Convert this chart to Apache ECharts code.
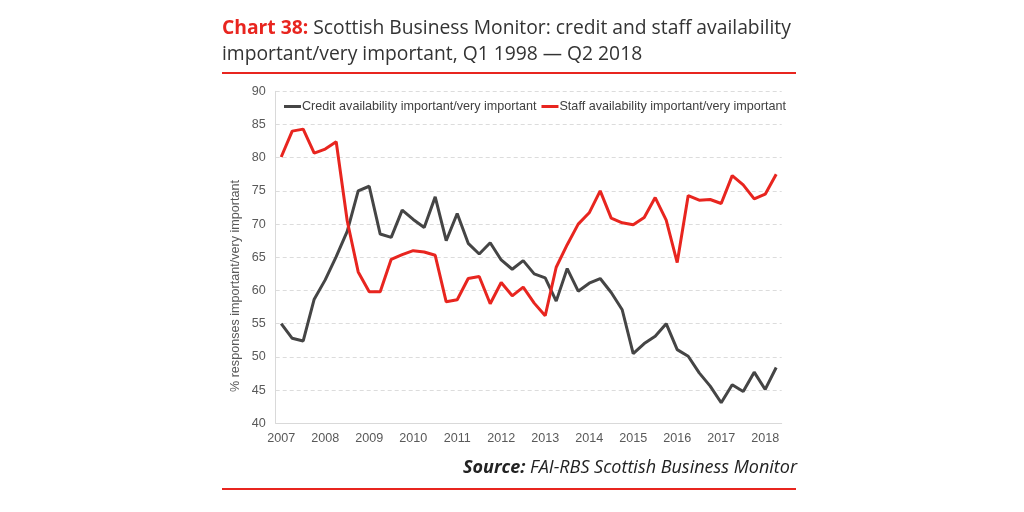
<!DOCTYPE html>
<html><head><meta charset="utf-8">
<script src="https://cdn.jsdelivr.net/npm/echarts@6/dist/echarts.min.js"></script>
<style>html,body{margin:0;padding:0;background:#fff}#c{width:1024px;height:512px}</style>
</head><body><div id="c"></div>
<script>
const quarters = [
 "2007 Q1","2007 Q2","2007 Q3","2007 Q4","2008 Q1","2008 Q2","2008 Q3","2008 Q4",
 "2009 Q1","2009 Q2","2009 Q3","2009 Q4","2010 Q1","2010 Q2","2010 Q3","2010 Q4",
 "2011 Q1","2011 Q2","2011 Q3","2011 Q4","2012 Q1","2012 Q2","2012 Q3","2012 Q4",
 "2013 Q1","2013 Q2","2013 Q3","2013 Q4","2014 Q1","2014 Q2","2014 Q3","2014 Q4",
 "2015 Q1","2015 Q2","2015 Q3","2015 Q4","2016 Q1","2016 Q2","2016 Q3","2016 Q4",
 "2017 Q1","2017 Q2","2017 Q3","2017 Q4","2018 Q1","2018 Q2"];
const creditName = "Credit availability important/very important";
const staffName = "Staff availability important/very important";
const credit = [55.0,52.8,52.4,58.7,61.6,65.1,68.9,75.0,75.7,68.5,68.0,72.1,70.7,69.5,74.1,67.5,
 71.6,67.1,65.5,67.2,64.6,63.2,64.5,62.5,61.9,58.4,63.3,59.9,61.1,61.8,59.7,57.1,
 50.5,52.0,53.1,55.0,51.1,50.1,47.6,45.6,43.1,45.8,44.8,47.7,45.1,48.4];
const staff = [80.1,84.0,84.3,80.7,81.3,82.4,70.5,62.8,59.8,59.8,64.7,65.4,66.0,65.8,65.3,58.3,
 58.6,61.8,62.1,58.0,61.2,59.2,60.5,58.1,56.2,63.5,66.9,70.0,71.7,75.0,70.9,70.2,
 69.9,71.0,74.0,70.6,64.2,74.3,73.6,73.7,73.1,77.3,75.9,73.8,74.5,77.5];
const yTicks = [40,45,50,55,60,65,70,75,80,85,90];
const titleBold = "Chart 38:";
const titleLine1 = " Scottish Business Monitor: credit and staff availability";
const titleLine2 = "important/very important, Q1 1998 \u2014 Q2 2018";
const yAxisTitle = "% responses important/very important";
const sourceBold = "Source:";
const sourceText = " FAI-RBS Scottish Business Monitor";

const chart = echarts.init(document.getElementById('c'), null, {renderer:'canvas'});
const red = '#e8251f', dark = '#454545';
const fs = 12.6;
chart.setOption({
  animation:false,
  grid:{left:275.7, right:242.3, top:91.3, bottom:88.7, containLabel:false},
  legend:{
    left:284, top:100, padding:0, itemWidth:17, itemHeight:3, itemGap:5, icon:'rect',
    textStyle:{fontFamily:'Liberation Sans, Arial', fontSize:fs, color:'#404040', padding:[0,0,0,-4]},
    data:[{name:creditName},{name:staffName}]
  },
  xAxis:{
    type:'category', data:quarters, boundaryGap:true,
    axisLine:{lineStyle:{color:'#d9d9d9', width:1}},
    axisTick:{show:false},
    axisLabel:{interval:(i)=> i%4===0, formatter:(v)=>v.slice(0,4),
      fontFamily:'Liberation Sans, Arial', fontSize:fs, color:'#595959', margin:9}
  },
  yAxis:{
    type:'value', min:yTicks[0], max:yTicks[yTicks.length-1], interval:5,
    axisLine:{show:true, lineStyle:{color:'#d9d9d9'}},
    axisTick:{show:false},
    splitLine:{lineStyle:{color:'#dcdcdc', type:[4,3], width:1}},
    axisLabel:{fontFamily:'Liberation Sans, Arial', fontSize:fs, color:'#595959', margin:10}
  },
  series:[
    {name:creditName, type:'line', data:credit, showSymbol:false, symbol:'none',
     lineStyle:{color:dark, width:3}, itemStyle:{color:dark}},
    {name:staffName, type:'line', data:staff, showSymbol:false, symbol:'none',
     lineStyle:{color:red, width:3}, itemStyle:{color:red}}
  ],
  graphic:[
    {type:'text', left:222, top:19, style:{
      text:'{b|'+titleBold+'}{n|'+titleLine1+'}',
      rich:{b:{fontFamily:'Open Sans', fontSize:19.3, fontWeight:'bold', fill:red},
            n:{fontFamily:'Open Sans', fontSize:19.3, fill:'#333'}}}},
    {type:'text', left:222, top:45, style:{text:titleLine2, fontFamily:'Open Sans', fontSize:19.3, fill:'#333'}},
    {type:'rect', shape:{x:222, y:72, width:574, height:2}, style:{fill:red}},
    {type:'rect', shape:{x:222, y:488, width:574, height:2}, style:{fill:red}},
    {type:'text', right:227, top:459, style:{
      text:'{b|'+sourceBold+'}{n|'+sourceText+'}',
      rich:{b:{fontFamily:'Open Sans', fontSize:18, fontWeight:'bold', fontStyle:'italic', fill:'#222'},
            n:{fontFamily:'Open Sans', fontSize:18, fontStyle:'italic', fill:'#222'}}}},
    {type:'text', x:236, y:286, rotation:Math.PI/2, style:{text:yAxisTitle,
      fontFamily:'Liberation Sans, Arial', fontSize:fs, fill:'#595959', align:'center', verticalAlign:'middle'}}
  ]
});
</script></body></html>
